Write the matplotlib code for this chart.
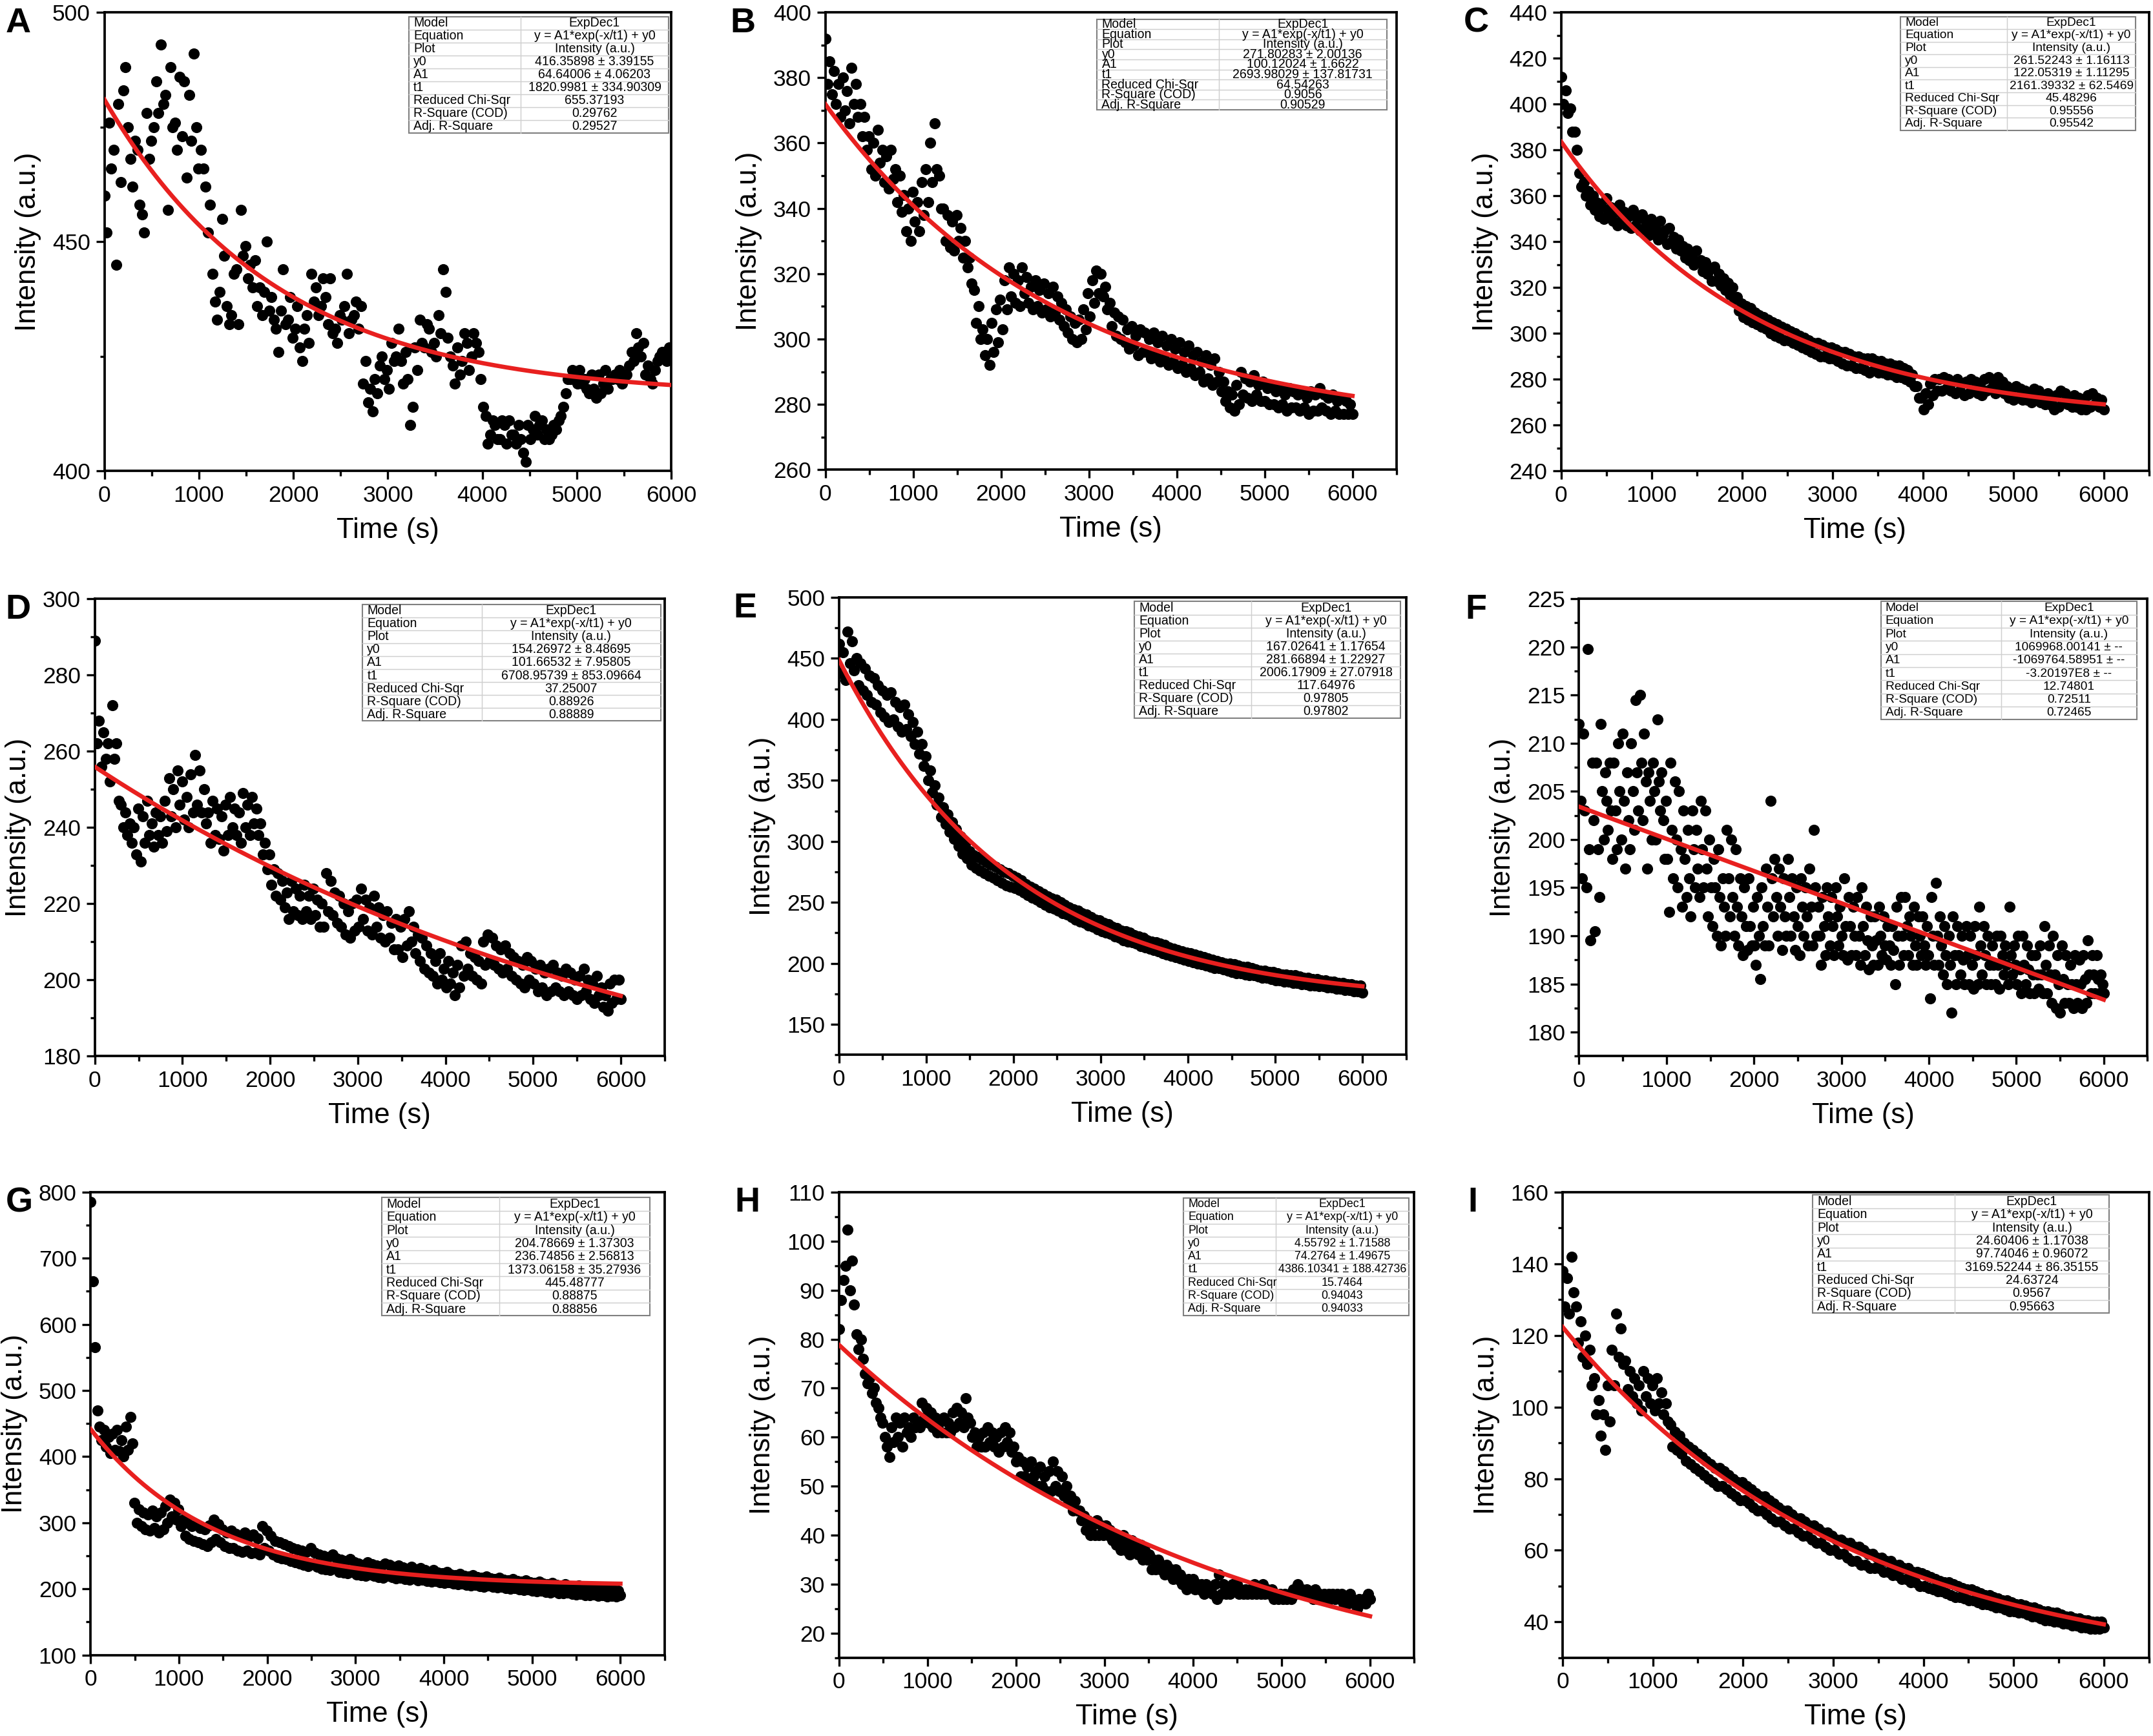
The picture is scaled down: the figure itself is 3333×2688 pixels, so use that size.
import numpy as np
import matplotlib.pyplot as plt
from matplotlib.patches import Rectangle
from matplotlib.ticker import MultipleLocator

plt.rcParams['font.family'] = ['Liberation Sans', 'DejaVu Sans']

# Intensity readings (a.u.), evenly spaced over 0-6000 s
a_vals = [460, 452, 476, 466, 470, 445, 480, 463, 483, 488, 475, 468, 462, 472, 470, 458,
          456, 452, 478, 468, 472, 475, 485, 478, 493, 480, 482, 457, 488, 475, 476, 470,
          486, 473, 485, 464, 482, 472, 491, 475, 466, 470, 466, 462, 452, 458, 443, 437,
          433, 439, 455, 447, 436, 432, 434, 443, 444, 432, 457, 447, 449, 442, 445, 440,
          446, 436, 440, 434, 439, 450, 435, 438, 433, 431, 426, 435, 444, 432, 433, 438,
          429, 431, 436, 427, 424, 431, 434, 428, 443, 437, 440, 434, 436, 442, 438, 432,
          442, 430, 431, 428, 434, 433, 436, 443, 430, 433, 434, 437, 431, 436, 419, 424,
          415, 418, 413, 420, 417, 423, 425, 420, 422, 418, 428, 424, 425, 431, 424, 419,
          426, 420, 410, 414, 427, 422, 433, 428, 427, 432, 431, 426, 428, 425, 434, 430,
          444, 439, 429, 425, 423, 419, 427, 421, 424, 430, 428, 422, 425, 430, 428, 426,
          420, 414, 412, 406, 408, 411, 410, 407, 407, 411, 410, 406, 411, 408, 408, 406,
          410, 407, 404, 402, 410, 407, 409, 412, 408, 410, 411, 407, 409, 407, 408, 410,
          409, 411, 412, 414, 417, 420, 420, 422, 421, 419, 422, 419, 420, 418, 417, 421,
          418, 416, 421, 417, 419, 422, 418, 420, 420, 421, 420, 422, 419, 421, 421, 423,
          426, 424, 430, 427, 425, 428, 421, 423, 420, 419, 422, 424, 425, 426, 426, 424,
          427, 425]

b_vals = [392, 378, 385, 375, 382, 372, 378, 368, 380, 370, 376, 366, 383, 372, 378, 368,
          372, 362, 368, 358, 362, 352, 360, 350, 364, 354, 358, 348, 356, 346, 358, 349,
          352, 342, 350, 339, 344, 333, 340, 330, 345, 336, 342, 333, 348, 338, 352, 342,
          360, 348, 366, 352, 350, 340, 340, 330, 338, 328, 336, 327, 338, 330, 334, 325,
          330, 322, 325, 317, 315, 305, 310, 300, 303, 295, 300, 292, 305, 296, 309, 299,
          312, 303, 318, 309, 322, 313, 320, 311, 318, 310, 322, 314, 319, 311, 316, 309,
          318, 310, 315, 308, 317, 309, 314, 307, 316, 308, 313, 306, 311, 304, 309, 302,
          307, 300, 305, 299, 306, 300, 309, 303, 314, 307, 318, 311, 321, 314, 320, 313,
          316, 309, 311, 304, 308, 301, 307, 300, 306, 299, 303, 297, 304, 298, 301, 295,
          303, 296, 302, 296, 300, 294, 302, 295, 299, 293, 301, 294, 298, 292, 300, 293,
          297, 291, 299, 292, 296, 290, 298, 291, 295, 289, 296, 290, 293, 287, 295, 288,
          292, 286, 294, 287, 290, 284, 287, 281, 284, 279, 283, 278, 286, 280, 290, 283,
          288, 282, 287, 281, 289, 283, 286, 281, 287, 281, 285, 280, 286, 280, 284, 279,
          285, 280, 283, 278, 285, 279, 284, 279, 283, 278, 284, 279, 282, 277, 284, 278,
          283, 278, 285, 279, 283, 278, 282, 277, 283, 278, 281, 277, 282, 277, 281, 277,
          280, 277]

c_vals = [412, 400, 406, 396, 398, 388, 388, 380, 370, 364, 366, 360, 362, 356, 360, 354,
          357, 351, 355, 350, 359, 352, 355, 349, 353, 347, 356, 350, 353, 347, 351, 346,
          354, 347, 350, 345, 352, 346, 348, 343, 350, 344, 346, 341, 349, 343, 345, 339,
          346, 340, 342, 337, 341, 336, 338, 333, 337, 332, 334, 330, 336, 331, 332, 327,
          331, 326, 328, 323, 329, 323, 326, 321, 324, 319, 322, 317, 320, 315, 316, 310,
          313, 307, 312, 306, 311, 305, 309, 304, 308, 303, 307, 302, 306, 300, 305, 299,
          304, 298, 303, 297, 302, 297, 301, 296, 300, 295, 299, 294, 298, 293, 297, 292,
          296, 291, 296, 290, 295, 290, 294, 289, 294, 289, 293, 288, 292, 287, 292, 286,
          291, 286, 290, 285, 290, 285, 289, 284, 289, 283, 289, 284, 288, 283, 288, 283,
          287, 282, 287, 282, 286, 281, 286, 281, 285, 280, 284, 279, 282, 277, 277, 272,
          272, 267, 274, 269, 278, 273, 280, 275, 280, 275, 281, 276, 280, 275, 279, 274,
          280, 275, 278, 273, 279, 274, 280, 275, 279, 274, 278, 273, 280, 275, 281, 276,
          279, 274, 281, 276, 279, 274, 277, 272, 276, 271, 277, 272, 276, 271, 275, 271,
          274, 270, 276, 271, 275, 270, 273, 269, 274, 269, 271, 267, 273, 268, 275, 270,
          274, 269, 272, 268, 273, 268, 272, 267, 271, 267, 273, 268, 274, 269, 272, 268,
          271, 267]

d_vals = [289, 262, 268, 256, 265, 258, 262, 252, 272, 258, 262, 247, 246, 240, 244, 238,
          241, 236, 240, 233, 245, 231, 243, 236, 247, 238, 241, 235, 244, 238, 243, 236,
          247, 239, 253, 243, 250, 240, 255, 246, 252, 242, 248, 240, 254, 244, 259, 246,
          255, 244, 250, 241, 244, 236, 247, 238, 245, 237, 243, 234, 246, 238, 248, 240,
          245, 238, 244, 236, 249, 240, 246, 238, 248, 241, 245, 238, 241, 233, 236, 229,
          233, 225, 229, 222, 228, 221, 226, 219, 223, 216, 226, 218, 224, 217, 222, 216,
          225, 218, 222, 216, 224, 217, 221, 214, 220, 214, 228, 218, 226, 217, 223, 215,
          222, 214, 220, 212, 218, 211, 220, 213, 221, 214, 224, 216, 221, 213, 219, 212,
          222, 214, 219, 211, 217, 210, 218, 211, 215, 208, 216, 208, 214, 206, 216, 209,
          218, 210, 214, 207, 212, 205, 211, 203, 209, 202, 207, 201, 205, 199, 207, 200,
          203, 198, 205, 199, 202, 196, 204, 198, 209, 201, 210, 203, 207, 201, 206, 200,
          205, 199, 210, 204, 212, 205, 211, 204, 209, 203, 208, 202, 209, 203, 207, 201,
          206, 200, 205, 199, 204, 198, 206, 200, 205, 199, 203, 197, 204, 198, 202, 196,
          203, 197, 204, 198, 202, 197, 201, 196, 203, 197, 202, 196, 200, 195, 201, 196,
          203, 197, 200, 195, 199, 194, 201, 196, 198, 193, 196, 192, 199, 194, 200, 195,
          200, 195]

e_vals = [462, 438, 455, 432, 472, 446, 464, 440, 450, 428, 446, 424, 442, 420, 436, 414,
          434, 412, 428, 406, 424, 402, 420, 398, 422, 400, 414, 394, 410, 390, 412, 392,
          404, 386, 398, 380, 390, 372, 380, 362, 370, 350, 358, 340, 346, 330, 336, 320,
          328, 314, 322, 308, 316, 302, 310, 296, 304, 290, 298, 286, 292, 281, 289, 278,
          287, 276, 285, 274, 283, 272, 281, 270, 279, 268, 277, 266, 275, 264, 274, 263,
          272, 262, 270, 260, 268, 258, 265, 256, 263, 254, 261, 252, 259, 250, 257, 248,
          255, 246, 253, 245, 252, 243, 250, 241, 248, 240, 246, 238, 244, 236, 243, 234,
          241, 233, 240, 231, 238, 230, 236, 228, 235, 226, 233, 225, 232, 224, 230, 222,
          229, 221, 227, 219, 226, 218, 225, 217, 223, 216, 222, 214, 221, 213, 219, 212,
          218, 211, 217, 210, 216, 208, 215, 207, 213, 206, 212, 205, 211, 204, 210, 203,
          209, 202, 208, 201, 207, 200, 206, 199, 205, 198, 204, 197, 203, 196, 202, 196,
          201, 195, 200, 194, 200, 193, 199, 192, 198, 192, 197, 191, 197, 190, 196, 190,
          195, 189, 194, 188, 194, 188, 193, 187, 193, 186, 192, 186, 191, 185, 191, 185,
          190, 184, 190, 184, 189, 183, 188, 183, 188, 182, 187, 182, 187, 181, 186, 181,
          186, 180, 185, 180, 185, 179, 184, 179, 184, 178, 183, 178, 183, 177, 182, 177,
          182, 176]

f_vals = [212, 204, 196, 211, 203, 195, 219.8, 199, 189.5, 208, 202, 190.5, 208, 199, 194,
          212, 205, 200, 207, 204, 201, 208, 203, 198, 208, 203, 199, 210, 205, 200,
          211, 204, 197, 207, 202, 199, 210, 205, 201, 214.5, 207, 203, 215, 208, 202,
          211, 206, 197, 207, 204, 200, 208, 205, 200, 212.5, 206, 203, 207, 202, 198,
          204, 198, 192.5, 208, 201, 196, 206, 200, 195, 205, 199, 193, 203, 198, 194,
          201, 196, 192, 203, 199, 195, 201, 197, 194, 204, 199, 195, 203, 197, 192,
          200, 195, 191, 198, 195, 190, 199, 194, 189, 196, 193, 190, 201, 196, 192,
          200, 194, 190, 199, 193, 189, 196, 192, 188, 195, 191, 188.5, 196, 191, 189,
          193, 189, 187, 194, 190, 185.5, 195, 191, 189, 197, 193, 189, 204, 196, 192,
          198, 194, 190, 197, 193, 188.5, 196, 192, 190, 198, 194, 190, 196, 192, 188.5,
          195, 191, 188, 196, 193, 190, 195, 192, 189, 197, 193, 189, 201, 195, 190,
          193, 190, 187, 194, 191, 188, 195, 192, 189, 194, 191, 188, 195, 192, 189,
          193, 190, 188, 196, 191, 187.5, 194, 191, 188, 193, 190, 188, 194, 190, 187,
          195, 191, 188, 193, 189.5, 186.5, 192, 189, 187, 192, 189.5, 187, 193, 190, 188,
          192, 189, 187.5, 191, 189, 187, 191, 188.5, 185, 193, 190, 187, 194, 190, 188,
          194, 191, 188, 192, 190, 187, 193, 189, 187, 192, 190, 188, 192, 189, 187,
          191, 188, 183.5, 194, 190, 187, 195.5, 190, 187, 192, 189, 186, 191, 188, 185,
          190, 187, 182, 192, 188, 185, 191, 188, 186, 190, 187.5, 185, 191, 188, 185,
          190, 187, 184.5, 191, 188, 185, 193, 189, 186, 191, 188, 185, 190, 187, 185,
          189, 187, 185, 190, 187, 184.5, 190, 188, 186, 189, 187, 185, 193, 188, 186,
          189, 187, 185, 190, 186.5, 184, 190, 187, 185, 189, 186.5, 184, 188, 186, 184,
          188, 186, 184.5, 189, 186, 184, 191, 187, 184, 189, 186, 183, 190, 186, 182.5,
          188, 185, 182, 189, 185.5, 183, 188, 185, 183, 187, 185, 182.5, 188, 185, 183,
          187.5, 185, 182.5, 188, 185.5, 183, 189.5, 186, 184, 188, 186, 184, 188, 185.5, 184,
          186, 185, 184]

g_vals = [785, 665, 565, 470, 445, 425, 440, 415, 430, 405, 435, 410, 440, 408, 425, 400,
          445, 410, 460, 420, 330, 300, 320, 295, 315, 290, 312, 288, 318, 292, 310, 285,
          315, 290, 325, 300, 335, 310, 330, 305, 320, 295, 305, 280, 300, 275, 295, 272,
          298, 270, 292, 268, 290, 265, 296, 270, 305, 275, 298, 270, 290, 265, 285, 262,
          288, 262, 283, 258, 280, 256, 285, 258, 278, 254, 282, 255, 276, 252, 295, 262,
          288, 258, 280, 252, 272, 248, 270, 246, 268, 245, 265, 242, 262, 240, 260, 238,
          258, 236, 256, 234, 262, 238, 255, 233, 252, 230, 250, 229, 248, 228, 252, 231,
          246, 226, 244, 225, 242, 224, 245, 226, 240, 222, 238, 221, 236, 220, 240, 222,
          237, 220, 235, 218, 234, 217, 238, 220, 236, 218, 233, 216, 235, 217, 232, 215,
          230, 214, 233, 216, 229, 213, 231, 214, 228, 212, 226, 211, 228, 212, 225, 210,
          224, 209, 226, 210, 222, 208, 221, 207, 223, 208, 220, 206, 219, 205, 221, 206,
          218, 204, 217, 203, 219, 205, 216, 203, 215, 202, 217, 203, 214, 201, 213, 200,
          215, 201, 212, 199, 211, 198, 213, 199, 210, 197, 209, 196, 211, 197, 208, 195,
          207, 194, 209, 196, 206, 193, 205, 193, 207, 194, 204, 192, 203, 191, 205, 192,
          202, 190, 201, 190, 203, 191, 200, 189, 201, 190, 199, 188, 200, 189, 198, 188,
          197, 190]

h_vals = [82, 88, 92, 95, 102.4, 90, 96, 87, 81, 78, 80, 76, 73, 71, 72, 69,
          70, 67, 66, 64, 63, 60, 58, 56, 62, 59, 64, 60, 63, 58, 64, 61,
          62, 60, 64, 62, 63, 62, 67, 64, 66, 63, 65, 62, 64, 61, 63, 61,
          64, 61, 63, 61, 65, 62, 66, 63, 65, 62, 68, 64, 63, 60, 61, 58,
          60, 58, 61, 58, 62, 59, 61, 58, 60, 57, 61, 58, 62, 59, 61, 57,
          58, 55, 56, 52, 55, 52, 54, 51, 55, 52, 53, 50, 54, 50, 52, 49,
          53, 49, 55, 50, 53, 49, 52, 48, 50, 47, 48, 45, 47, 45, 45, 43,
          44, 41, 43, 40, 42, 40, 43, 40, 42, 40, 42, 40, 41, 39, 40, 38,
          39, 37, 40, 37, 38, 36, 39, 37, 38, 36, 38, 35, 37, 35, 36, 33,
          35, 33, 35, 33, 34, 32, 34, 32, 33, 31, 33, 31, 32, 30, 31, 29,
          31, 30, 31, 29, 30, 29, 30, 28, 30, 29, 29, 28, 30, 27, 32, 28,
          30, 28, 29, 28, 30, 29, 30, 28, 29, 28, 29, 28, 29, 28, 30, 28,
          29, 28, 30, 28, 29, 28, 29, 27, 28, 27, 28, 27, 28, 27, 28, 27,
          29, 28, 30, 28, 29, 28, 29, 28, 28, 27, 29, 27, 28, 27, 28, 27,
          28, 27, 28, 27, 28, 27, 28, 26, 27, 26, 28, 27, 26, 25, 27, 26,
          27, 26, 28, 27]

i_vals = [138, 128, 136, 126, 142, 132, 128, 118, 124, 114, 120, 112, 116, 106, 108, 98,
          102, 92, 98, 88, 106, 96, 116, 106, 126, 114, 122, 112, 113, 105, 110, 103,
          108, 101, 106, 99, 110, 103, 108, 101, 106, 99, 108, 101, 104, 98, 101, 96,
          95, 89, 93, 88, 92, 87, 90, 85, 89, 84, 88, 83, 87, 82, 86, 81,
          85, 80, 84, 79, 83, 78, 83, 78, 82, 77, 81, 76, 80, 75, 79, 74,
          79, 74, 78, 73, 77, 72, 76, 71, 75, 71, 75, 70, 74, 69, 73, 68,
          72, 68, 71, 67, 71, 66, 70, 66, 69, 65, 69, 64, 68, 64, 67, 63,
          67, 62, 66, 62, 65, 61, 65, 60, 64, 60, 63, 59, 63, 59, 62, 58,
          62, 57, 61, 57, 61, 56, 60, 56, 59, 55, 59, 55, 58, 55, 58, 54,
          57, 54, 57, 53, 56, 53, 56, 52, 55, 52, 55, 51, 54, 51, 54, 50,
          53.5, 50, 53, 49.5, 52.5, 49, 52, 48.5, 51.5, 48.5, 51, 48, 51, 47.5, 50.5, 47,
          50, 47, 49.5, 46.5, 49, 46, 49, 46, 48.5, 45.5, 48, 45, 47.5, 45, 47.5, 44.5,
          47, 44, 46.5, 44, 46, 43.5, 46, 43, 45.5, 43, 45, 42.5, 45, 42.5, 44.5, 42,
          44, 41.5, 44, 41.5, 43.5, 41, 43, 40.5, 43, 40.5, 42.5, 40, 42.5, 40, 42, 39.5,
          41.5, 39.5, 41.5, 39, 41, 39, 41, 38.5, 40.5, 38.5, 40.5, 38, 40, 38, 40, 38,
          40, 38.5]

# ExpDec1 fit parameters (y0, A1, t1)
a_fit = (416.35898, 64.64006, 1820.9981)
b_fit = (271.80283, 100.12024, 2693.98029)
c_fit = (261.52243, 122.05319, 2161.39332)
d_fit = (154.26972, 101.66532, 6708.95739)
e_fit = (167.02641, 281.66894, 2006.17909)
f_fit = (1069968.00141, -1069764.58951, -3.20197e8)
g_fit = (204.78669, 236.74856, 1373.06158)
h_fit = (4.55792, 74.2764, 4386.10341)
i_fit = (24.60406, 97.74046, 3169.52244)

row_names = ["Model", "Equation", "Plot", "y0", "A1", "t1",
             "Reduced Chi-Sqr", "R-Square (COD)", "Adj. R-Square"]
a_tab = ["416.35898 ± 3.39155", "64.64006 ± 4.06203", "1820.9981 ± 334.90309",
         "655.37193", "0.29762", "0.29527"]
b_tab = ["271.80283 ± 2.00136", "100.12024 ± 1.6622", "2693.98029 ± 137.81731",
         "64.54263", "0.9056", "0.90529"]
c_tab = ["261.52243 ± 1.16113", "122.05319 ± 1.11295", "2161.39332 ± 62.5469",
         "45.48296", "0.95556", "0.95542"]
d_tab = ["154.26972 ± 8.48695", "101.66532 ± 7.95805", "6708.95739 ± 853.09664",
         "37.25007", "0.88926", "0.88889"]
e_tab = ["167.02641 ± 1.17654", "281.66894 ± 1.22927", "2006.17909 ± 27.07918",
         "117.64976", "0.97805", "0.97802"]
f_tab = ["1069968.00141 ± --", "-1069764.58951 ± --", "-3.20197E8 ± --",
         "12.74801", "0.72511", "0.72465"]
g_tab = ["204.78669 ± 1.37303", "236.74856 ± 2.56813", "1373.06158 ± 35.27936",
         "445.48777", "0.88875", "0.88856"]
h_tab = ["4.55792 ± 1.71588", "74.2764 ± 1.49675", "4386.10341 ± 188.42736",
         "15.7464", "0.94043", "0.94033"]
i_tab = ["24.60406 ± 1.17038", "97.74046 ± 0.96072", "3169.52244 ± 86.35155",
         "24.63724", "0.9567", "0.95663"]

# letter, data, fit, table, ylim, major, minor, xmax,
# axes box in pixels of a 1568x1264 frame (left, right, top, bottom),
# table box in axes fractions (x0, x1, ybottom, ytop), column split, table font
panels = [
    ("A", a_vals, a_fit, a_tab, (400, 500), 50, 25, 6000, (76, 489, 9, 343), (0.537, 0.995, 0.737, 0.991), 0.43, 4.7),
    ("B", b_vals, b_fit, b_tab, (260, 400), 20, 10, 6500, (601, 1017, 9, 342), (0.476, 0.983, 0.787, 0.985), 0.42, 4.7),
    ("C", c_vals, c_fit, c_tab, (240, 440), 20, 10, 6500, (1137, 1565, 9, 343), (0.577, 0.977, 0.743, 0.991), 0.455, 4.6),
    ("D", d_vals, d_fit, d_tab, (180, 300), 20, 10, 6500, (69, 484, 436, 769), (0.470, 0.993, 0.733, 0.988), 0.40, 4.7),
    ("E", e_vals, e_fit, e_tab, (125, 500), 50, 25, 6500, (611, 1024, 435, 768), (0.521, 0.990, 0.736, 0.991), 0.44, 4.7),
    ("F", f_vals, f_fit, f_tab, (177.5, 225), 5, 2.5, 6500, (1150, 1564, 436, 769), (0.531, 0.981, 0.736, 0.994), 0.47, 4.6),
    ("G", g_vals, g_fit, g_tab, (100, 800), 100, 50, 6500, (66, 484, 868, 1205), (0.507, 0.974, 0.733, 0.988), 0.44, 4.7),
    ("H", h_vals, h_fit, h_tab, (15, 110), 10, 5, 6500, (611, 1030, 868, 1207), (0.599, 0.990, 0.735, 0.988), 0.41, 4.3),
    ("I", i_vals, i_fit, i_tab, (30, 160), 20, 10, 6500, (1138, 1565, 868, 1207), (0.426, 0.932, 0.740, 0.994), 0.48, 4.7),
]

W, H = 1568.0, 1264.0
fig = plt.figure(figsize=(3333 / 300, 2688 / 300), dpi=300)


def draw_table(ax, box, split, values, fs):
    x0, x1, yb, yt = box
    cells = ["ExpDec1", "y = A1*exp(-x/t1) + y0", "Intensity (a.u.)"] + values
    n = len(row_names)
    rh = (yt - yb) / n
    xs = x0 + split * (x1 - x0)
    ax.add_patch(Rectangle((x0, yb), x1 - x0, yt - yb, transform=ax.transAxes,
                           fc="white", ec="#808080", lw=0.5, zorder=5))
    ax.plot([xs, xs], [yb, yt], transform=ax.transAxes, color="#cfcfcf", lw=0.35, zorder=6)
    for k in range(1, n):
        ax.plot([x0, x1], [yt - k * rh] * 2, transform=ax.transAxes,
                color="#cfcfcf", lw=0.35, zorder=6)
    for k in range(n):
        yc = yt - (k + 0.5) * rh
        ax.text(x0 + 0.008, yc, row_names[k], transform=ax.transAxes,
                ha="left", va="center", fontsize=fs, zorder=7)
        ax.text((xs + x1) / 2, yc, cells[k], transform=ax.transAxes,
                ha="center", va="center", fontsize=fs, zorder=7)


for letter, vals, fit, tab, ylim, major, minor, xmax, pos, tbox, split, tfs in panels:
    left, right, top, bottom = pos
    ax = fig.add_axes([left / W, 1 - bottom / H, (right - left) / W, (bottom - top) / H])
    t = np.linspace(0, 6000, len(vals))
    ax.scatter(t, vals, s=17, color="black", linewidths=0, zorder=2)
    y0, A1, t1 = fit
    xf = np.linspace(0, 6000, 400)
    ax.plot(xf, A1 * np.exp(-xf / t1) + y0, color="#e8201f", lw=1.6, zorder=3)

    ax.set_xlim(0, xmax)
    ax.set_ylim(*ylim)
    ax.xaxis.set_major_locator(MultipleLocator(1000))
    ax.xaxis.set_minor_locator(MultipleLocator(500))
    ax.yaxis.set_major_locator(MultipleLocator(major))
    ax.yaxis.set_minor_locator(MultipleLocator(minor))
    ax.tick_params(which="both", direction="out", top=False, right=False, width=0.8)
    ax.tick_params(which="major", length=3.2, labelsize=8.5, pad=2)
    ax.tick_params(which="minor", length=1.8)
    for sp in ax.spines.values():
        sp.set_linewidth(0.9)
    ax.set_xlabel("Time (s)", fontsize=10.5, labelpad=4)
    ax.set_ylabel("Intensity (a.u.)", fontsize=10.5, labelpad=4)

    draw_table(ax, tbox, split, tab, tfs)

    lx = {"A": 4, "B": 532, "C": 1066, "D": 4, "E": 534, "F": 1067,
          "G": 4, "H": 535, "I": 1069}[letter]
    fig.text(lx / W, 1 - (top - 4) / H, letter, fontsize=13, fontweight="bold",
             ha="left", va="top")

fig.savefig("out.png", dpi=300)
